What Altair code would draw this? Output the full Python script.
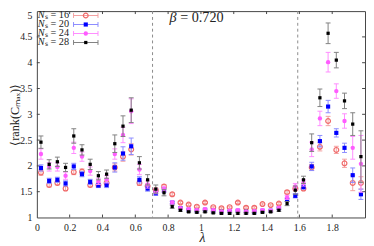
import altair as alt
import pandas as pd

# ---------------- data ----------------
lam = [0.025, 0.075, 0.125, 0.175, 0.225, 0.275, 0.325, 0.375, 0.425, 0.475,
       0.525, 0.575, 0.625, 0.675, 0.725, 0.775, 0.825, 0.875, 0.925, 0.975,
       1.025, 1.075, 1.125, 1.175, 1.225, 1.275, 1.325, 1.375, 1.425, 1.475,
       1.525, 1.575, 1.625, 1.675, 1.725, 1.775, 1.825, 1.875, 1.925, 1.975]

ns_labels = ["16", "20", "24", "28"]

val16 = [1.87, 1.63, 1.67, 1.56, 1.88, 1.89, 1.63, 1.63, 1.67, 1.97,
         2.18, 2.32, 1.67, 1.61, 1.53, 1.60, 1.45, 1.29, 1.25, 1.21,
         1.29, 1.20, 1.18, 1.20, 1.29, 1.19, 1.19, 1.26, 1.24, 1.27,
         1.49, 1.56, 1.56, 1.97, 2.37, 2.87, 2.31, 2.05, 1.67, 1.67]
err16 = [0.05, 0.04, 0.04, 0.04, 0.05, 0.05, 0.04, 0.04, 0.04, 0.07,
         0.09, 0.11, 0.05, 0.04, 0.04, 0.04, 0.03, 0.02, 0.02, 0.02,
         0.02, 0.02, 0.02, 0.02, 0.02, 0.02, 0.02, 0.02, 0.02, 0.02,
         0.03, 0.04, 0.04, 0.06, 0.08, 0.09, 0.07, 0.08, 0.15, 0.12]

val20 = [1.96, 1.71, 1.73, 1.66, 1.99, 1.84, 1.69, 1.62, 1.63, 1.97,
         2.24, 2.38, 1.73, 1.56, 1.47, 1.53, 1.29, 1.18, 1.15, 1.13,
         1.15, 1.13, 1.11, 1.12, 1.13, 1.11, 1.11, 1.13, 1.13, 1.18,
         1.34, 1.42, 1.59, 1.99, 2.48, 3.15, 2.64, 2.35, 1.82, 1.45]
err20 = [0.06, 0.05, 0.05, 0.05, 0.06, 0.05, 0.05, 0.04, 0.05, 0.09,
         0.13, 0.16, 0.06, 0.05, 0.04, 0.04, 0.02, 0.02, 0.015, 0.015,
         0.015, 0.015, 0.015, 0.015, 0.015, 0.015, 0.015, 0.015, 0.015, 0.02,
         0.03, 0.04, 0.04, 0.08, 0.11, 0.12, 0.08, 0.09, 0.14, 0.10]

val24 = [2.23, 1.98, 1.98, 1.81, 2.35, 2.18, 1.90, 1.70, 1.74, 2.23,
         2.60, 3.06, 1.93, 1.64, 1.51, 1.55, 1.29, 1.18, 1.16, 1.14,
         1.16, 1.14, 1.11, 1.13, 1.14, 1.11, 1.12, 1.14, 1.13, 1.19,
         1.39, 1.60, 1.67, 2.32, 2.92, 4.01, 3.45, 2.87, 2.35, 2.04]
err24 = [0.10, 0.08, 0.08, 0.07, 0.11, 0.09, 0.08, 0.06, 0.07, 0.10,
         0.15, 0.24, 0.10, 0.07, 0.05, 0.05, 0.03, 0.02, 0.02, 0.02,
         0.02, 0.02, 0.02, 0.02, 0.02, 0.02, 0.02, 0.02, 0.02, 0.02,
         0.04, 0.06, 0.06, 0.14, 0.14, 0.19, 0.14, 0.14, 0.22, 0.55]

val28 = [2.46, 2.03, 2.08, 1.97, 2.58, 2.31, 2.03, 1.81, 1.84, 2.43,
         2.77, 3.08, 2.06, 1.73, 1.55, 1.48, 1.21, 1.14, 1.11, 1.10,
         1.11, 1.09, 1.08, 1.08, 1.08, 1.08, 1.08, 1.10, 1.11, 1.14,
         1.27, 1.53, 1.73, 2.45, 3.32, 4.57, 4.05, 3.26, 2.81, 2.18]
err28 = [0.12, 0.09, 0.09, 0.08, 0.14, 0.10, 0.10, 0.08, 0.08, 0.17,
         0.20, 0.24, 0.12, 0.10, 0.08, 0.06, 0.03, 0.02, 0.015, 0.015,
         0.015, 0.015, 0.015, 0.015, 0.015, 0.015, 0.015, 0.015, 0.015, 0.02,
         0.04, 0.08, 0.07, 0.17, 0.17, 0.20, 0.15, 0.15, 0.22, 0.50]

vlines = [0.705, 1.59]
x_ticks = [0, 0.2, 0.4, 0.6, 0.8, 1.0, 1.2, 1.4, 1.6, 1.8]
y_ticks = [1, 1.5, 2, 2.5, 3, 3.5, 4, 4.5, 5]
beta_text = "= 0.720"

# ---------------- layout / styles ----------------
W, H = 335.5, 211
FONT = "Liberation Serif"
FRAME = "#444444"

styles = [
    dict(bar="#f4a0a0", mk="#f06a6a", shape="circle", filled=False, size=24),
    dict(bar="#8a8aff", mk="#0000ff", shape="square", filled=True, size=18),
    dict(bar="#ff8cff", mk="#ff5cff", shape="circle", filled=True, size=20),
    dict(bar="#808080", mk="#000000", shape="square", filled=True, size=11),
]
series_vals = [val16, val20, val24, val28]
series_errs = [err16, err20, err24, err28]

xscale = alt.Scale(domain=[0, 2], nice=False, zero=False)
yscale = alt.Scale(domain=[1, 5], nice=False, zero=False)

xaxis = alt.Axis(values=x_ticks, format="~g", title="λ", labelFlush=False,
                 labelOverlap=False, labelPadding=5, titleFont=FONT,
                 titleFontSize=14, titleFontStyle="italic", titleFontWeight="normal",
                 titleX=W / 2 + 1, titleY=20.5, titleBaseline="middle",
                 titleColor="#222")
yaxis = alt.Axis(values=y_ticks, format="~g", title="⟨rank(Cₘₐₓ)⟩", labelFlush=False,
                 labelOverlap=False, labelPadding=5, titleFont=FONT,
                 labelBaseline={"condition": {"test": "datum.value == 5", "value": "top"},
                                "value": "middle"},
                 titleFontSize=12.5, titleFontWeight="normal", titleAngle=270,
                 titleAlign="center", titleBaseline="middle", titleX=-23,
                 titleY=H / 2, titleColor="#222")


def X(field):
    return alt.X(field, scale=xscale, axis=xaxis)


def Y(field):
    return alt.Y(field, scale=yscale, axis=yaxis)


# frame ticks (inward)
xt = pd.DataFrame({"t": x_ticks[1:]})
yt = pd.DataFrame({"t": y_ticks[1:-1]})
tick_layers = [
    alt.Chart(xt).mark_rule(color=FRAME, strokeWidth=1).encode(
        x=X("t:Q"), y=alt.value(H), y2=alt.value(H - 3)),
    alt.Chart(xt).mark_rule(color=FRAME, strokeWidth=1).encode(
        x=X("t:Q"), y=alt.value(0), y2=alt.value(3)),
    alt.Chart(yt).mark_rule(color=FRAME, strokeWidth=1).encode(
        y=Y("t:Q"), x=alt.value(0), x2=alt.value(3)),
    alt.Chart(yt).mark_rule(color=FRAME, strokeWidth=1).encode(
        y=Y("t:Q"), x=alt.value(W), x2=alt.value(W - 3)),
]

vl = alt.Chart(pd.DataFrame({"v": vlines})).mark_rule(
    color="#8a8a8a", strokeDash=[3, 3], strokeWidth=1).encode(x=X("v:Q"))

layers = tick_layers + [vl]

for i, st in enumerate(styles):
    df = pd.DataFrame({"lam": lam, "val": series_vals[i], "err": series_errs[i]})
    df["lo"] = df["val"] - df["err"]
    df["hi"] = df["val"] + df["err"]
    base = alt.Chart(df)
    layers.append(base.mark_rule(color=st["bar"], strokeWidth=1).encode(
        x=X("lam:Q"), y=Y("lo:Q"), y2="hi:Q"))
    for col in ["lo", "hi"]:
        layers.append(base.mark_rule(color=st["bar"], strokeWidth=1,
                                     xOffset=-2.5, x2Offset=2.5).encode(
            x=X("lam:Q"), x2="lam:Q", y=Y(f"{col}:Q")))
    if st["filled"]:
        mk = base.mark_point(shape=st["shape"], filled=True, color=st["mk"],
                             size=st["size"], opacity=1)
    else:
        mk = base.mark_point(shape=st["shape"], filled=False, color=st["mk"],
                             size=st["size"], strokeWidth=1.2, opacity=1)
    layers.append(mk.encode(x=X("lam:Q"), y=Y("val:Q")))

# legend (top-left, inside)
for i, st in enumerate(styles):
    ly = 4.5 + 9.2 * i
    ld = pd.DataFrame({"lab": ["ₛ = " + ns_labels[i]]})
    lb = alt.Chart(ld)
    layers += [
        lb.mark_text(font=FONT, fontSize=10.5, fontStyle="italic", align="left",
                     baseline="middle", color="#222").encode(
            x=alt.value(0.8), y=alt.value(ly), text=alt.value("N")),
        lb.mark_text(font=FONT, fontSize=10.5, align="left", baseline="middle",
                     color="#222").encode(
            x=alt.value(8.2), y=alt.value(ly), text="lab:N"),
        lb.mark_rule(color=st["bar"], strokeWidth=1).encode(
            x=alt.value(37.5), x2=alt.value(62.5), y=alt.value(ly)),
        lb.mark_rule(color=st["bar"], strokeWidth=1).encode(
            x=alt.value(37.5), y=alt.value(ly - 2.5), y2=alt.value(ly + 2.5)),
        lb.mark_rule(color=st["bar"], strokeWidth=1).encode(
            x=alt.value(62.5), y=alt.value(ly - 2.5), y2=alt.value(ly + 2.5)),
        lb.mark_point(shape=st["shape"], filled=st["filled"], color=st["mk"],
                      size=st["size"], opacity=1,
                      strokeWidth=1.2 if not st["filled"] else 1).encode(
            x=alt.value(50), y=alt.value(ly)),
    ]

# beta annotation
bd = alt.Chart(pd.DataFrame({"b": [beta_text]}))
layers += [
    bd.mark_text(font=FONT, fontSize=14.5, fontStyle="italic", align="left",
                 baseline="middle", color="#222").encode(
        x=alt.value(135.5), y=alt.value(7.5), text=alt.value("β")),
    bd.mark_text(font=FONT, fontSize=14.5, align="left", baseline="middle",
                 color="#222").encode(
        x=alt.value(146.5), y=alt.value(7.5), text="b:N"),
]

chart = alt.layer(*layers).properties(
    width=W, height=H,
    autosize=alt.AutoSizeParams(type="none"),
    padding={"left": 29.5, "top": 0.5, "right": 1, "bottom": 28},
).configure_view(
    stroke=FRAME, strokeWidth=1
).configure_axis(
    domain=False, ticks=False, grid=False,
    labelFont=FONT, labelFontSize=10, labelColor="#222"
)

chart.save("out.html", embed_options={"renderer": "svg", "actions": False})
